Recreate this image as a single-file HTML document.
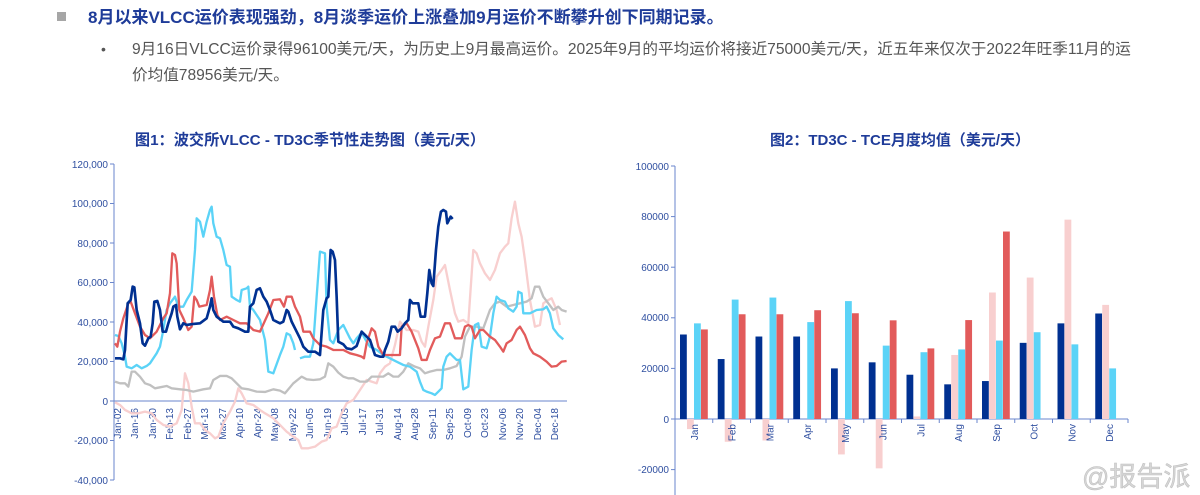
<!DOCTYPE html>
<html><head><meta charset="utf-8"><style>
html,body{margin:0;padding:0;background:#fff;}
svg{display:block;font-family:"Liberation Sans","Noto Sans CJK SC",sans-serif;}
</style></head><body>
<svg width="1200" height="495" viewBox="0 0 1200 495" xmlns="http://www.w3.org/2000/svg">
<rect x="57" y="12" width="9" height="9" fill="#a6a6a6"/>
<text x="88" y="23" font-size="17" font-weight="bold" fill="#1f3c99">8月以来VLCC运价表现强劲，8月淡季运价上涨叠加9月运价不断攀升创下同期记录。</text>
<text x="101" y="54" font-size="14" fill="#555">•</text>
<text x="132" y="54" font-size="15.6" fill="#555">9月16日VLCC运价录得96100美元/天，为历史上9月最高运价。2025年9月的平均运价将接近75000美元/天，近五年来仅次于2022年旺季11月的运</text>
<text x="132" y="80" font-size="15.6" fill="#555">价均值78956美元/天。</text>
<text x="310" y="145" font-size="15.2" font-weight="bold" fill="#1f3c99" text-anchor="middle">图1：波交所VLCC - TD3C季节性走势图（美元/天）</text>
<text x="900" y="145" font-size="15" font-weight="bold" fill="#1f3c99" text-anchor="middle">图2：TD3C - TCE月度均值（美元/天）</text>

<g font-size="10" fill="#2f4fa0" text-anchor="end">
<text x="108" y="168">120,000</text><text x="108" y="207">100,000</text><text x="108" y="247">80,000</text>
<text x="108" y="286">60,000</text><text x="108" y="326">40,000</text><text x="108" y="365">20,000</text>
<text x="108" y="405">0</text><text x="108" y="444">-20,000</text><text x="108" y="484">-40,000</text>
</g>
<g stroke="#6a86cc" stroke-width="1">
<line x1="114" y1="164" x2="114" y2="480"/><line x1="114" y1="401" x2="567" y2="401"/>
<line x1="110" y1="164" x2="114" y2="164"/><line x1="110" y1="203.5" x2="114" y2="203.5"/><line x1="110" y1="243" x2="114" y2="243"/><line x1="110" y1="282.5" x2="114" y2="282.5"/><line x1="110" y1="322" x2="114" y2="322"/><line x1="110" y1="361.5" x2="114" y2="361.5"/><line x1="110" y1="401" x2="114" y2="401"/><line x1="110" y1="440.5" x2="114" y2="440.5"/><line x1="110" y1="480" x2="114" y2="480"/>
</g>
<g font-size="10" fill="#2f4fa0" text-anchor="end">
<text transform="translate(121,408) rotate(-90)">Jan-02</text>
<text transform="translate(138,408) rotate(-90)">Jan-16</text>
<text transform="translate(156,408) rotate(-90)">Jan-30</text>
<text transform="translate(173,408) rotate(-90)">Feb-13</text>
<text transform="translate(191,408) rotate(-90)">Feb-27</text>
<text transform="translate(208,408) rotate(-90)">Mar-13</text>
<text transform="translate(226,408) rotate(-90)">Mar-27</text>
<text transform="translate(243,408) rotate(-90)">Apr-10</text>
<text transform="translate(261,408) rotate(-90)">Apr-24</text>
<text transform="translate(278,408) rotate(-90)">May-08</text>
<text transform="translate(296,408) rotate(-90)">May-22</text>
<text transform="translate(313,408) rotate(-90)">Jun-05</text>
<text transform="translate(331,408) rotate(-90)">Jun-19</text>
<text transform="translate(348,408) rotate(-90)">Jul-03</text>
<text transform="translate(366,408) rotate(-90)">Jul-17</text>
<text transform="translate(383,408) rotate(-90)">Jul-31</text>
<text transform="translate(401,408) rotate(-90)">Aug-14</text>
<text transform="translate(418,408) rotate(-90)">Aug-28</text>
<text transform="translate(436,408) rotate(-90)">Sep-11</text>
<text transform="translate(453,408) rotate(-90)">Sep-25</text>
<text transform="translate(471,408) rotate(-90)">Oct-09</text>
<text transform="translate(488,408) rotate(-90)">Oct-23</text>
<text transform="translate(506,408) rotate(-90)">Nov-06</text>
<text transform="translate(523,408) rotate(-90)">Nov-20</text>
<text transform="translate(541,408) rotate(-90)">Dec-04</text>
<text transform="translate(558,408) rotate(-90)">Dec-18</text>
</g>
<g transform="translate(60,150) scale(0.3333)" fill="none" stroke-width="7" stroke-linejoin="round">
<polyline stroke="#f8cfcf" points="165,757 180,765 195,780 215,790 235,790 255,785 275,790 290,810 310,825 330,830 350,820 365,780 375,670 385,700 395,770 405,820 420,820 435,840 450,850 465,865 475,860 490,820 510,785 525,755 535,715 545,730 560,760 580,765 600,780 615,790 640,805 660,825 680,845 700,860 715,870 725,895 745,895 765,890 785,875 800,870 815,835 830,830 845,790 860,760 880,750 900,720 920,690 935,695 950,700 960,670 975,650 990,640 1005,585 1020,515 1040,540 1060,540 1075,545 1085,575 1095,590 1105,530 1120,450 1130,380 1145,360 1155,345 1170,420 1185,490 1195,515 1210,510 1225,520 1240,300 1250,310 1260,340 1275,370 1290,390 1305,360 1320,310 1335,290 1345,280 1355,205 1365,155 1375,220 1385,260 1395,330 1410,450 1425,530 1440,525 1450,460 1465,450 1475,445 1490,480 1500,525"/>
<polyline stroke="#c0c0c0" points="165,695 180,700 195,700 205,710 215,665 225,665 240,680 255,700 270,705 285,715 300,712 320,708 335,715 360,718 380,720 400,725 430,718 450,715 460,690 480,678 500,678 515,685 530,700 545,715 565,718 590,725 615,726 640,718 660,722 675,730 690,712 700,700 725,680 740,688 760,690 780,688 795,680 805,640 820,650 835,668 850,680 865,685 880,685 900,695 920,695 935,680 950,680 970,680 985,670 1000,680 1015,680 1030,665 1045,640 1065,650 1080,655 1095,670 1110,665 1130,660 1150,660 1170,655 1190,648 1205,620 1215,560 1230,530 1250,530 1270,535 1290,480 1305,460 1320,455 1340,470 1360,465 1380,460 1400,455 1415,445 1425,410 1438,410 1450,440 1465,460 1480,480 1495,470 1505,480 1520,485"/>
<polyline stroke="#5bd3f7" points="165,555 175,558 185,580 195,620 200,650 215,655 230,645 245,655 260,648 270,640 280,625 290,610 300,590 308,550 320,480 330,460 345,440 355,470 370,470 380,450 395,425 405,300 410,205 420,215 430,260 440,215 450,180 455,170 460,220 470,260 480,265 490,300 500,345 510,350 515,440 530,450 540,455 545,420 560,415 565,410 570,470 580,480 600,510 615,570 625,665 640,670 660,615 670,590 680,550 690,555 700,580 705,600"/>
<polyline stroke="#5bd3f7" points="720,625 735,620 750,620 760,580 770,440 780,305 795,310 800,470 810,570 820,580 835,540 850,525 860,545 870,565 880,580 890,565 905,548 920,575 930,590 950,600 970,615 990,625 1010,635 1030,645 1050,650 1070,665 1080,695 1090,720 1100,725 1115,730 1125,735 1135,725 1145,715 1150,650 1160,620 1170,610 1180,620 1190,630 1200,630 1210,718 1225,710 1235,600 1245,525 1255,520 1265,590 1280,595 1290,560 1300,490 1310,440 1320,450 1335,455 1345,475 1360,485 1370,470 1375,425 1385,430 1390,490 1410,490 1430,480 1450,478 1460,470 1470,490 1480,535 1495,555 1510,568"/>
<polyline stroke="#e25b5b" points="165,580 172,590 180,545 190,505 205,460 212,455 225,490 240,530 255,555 270,565 290,545 310,505 320,490 330,430 337,310 345,315 350,340 358,480 370,505 385,540 395,530 403,440 410,450 418,470 440,465 450,420 455,380 462,440 472,495 480,510 500,500 520,510 540,520 560,520 580,540 600,545 625,490 640,450 660,448 672,470 680,440 695,440 705,470 720,500 730,545 750,545 760,565 780,585 800,590 820,600 850,600 870,610 890,615 905,620 912,625 920,580 935,535 945,545 955,590 970,615 990,615 1010,615 1020,615 1025,530 1040,520 1055,545 1075,595 1085,630 1100,630 1110,600 1125,565 1140,560 1155,520 1170,520 1185,565 1205,565 1215,530 1225,525 1235,530 1245,565 1260,540 1270,540 1290,560 1305,570 1320,590 1330,605 1340,580 1355,570 1370,540 1380,530 1395,555 1410,595 1420,610 1440,620 1460,635 1475,650 1490,648 1505,635 1520,633"/>
<polyline stroke="#003091" stroke-width="8" points="165,625 180,625 190,628 195,600 203,460 212,450 218,410 223,412 230,480 240,520 248,580 255,587 265,565 272,560 278,520 283,455 292,453 300,480 308,545 318,545 325,520 335,490 340,470 348,465 352,500 360,538 370,520 380,525 400,522 420,520 440,505 450,470 455,445 460,480 470,500 490,515 510,515 520,530 535,535 555,545 565,545 570,470 580,460 590,420 600,415 610,440 620,455 630,480 640,510 650,515 660,520 670,515 680,480 685,485 695,515 705,535 720,565 730,590 745,605 765,605 780,615 790,480 800,445 805,440 812,300 818,305 825,330 830,440 835,575 850,583 860,595 875,598 890,588 905,545 915,555 930,570 945,615 960,620 970,620 975,600 985,575 995,530 1005,530 1013,545 1025,535 1035,520 1045,510 1050,450 1058,460 1075,460 1082,500 1095,500 1102,430 1108,360 1115,400 1120,408 1128,300 1135,230 1143,185 1150,180 1158,185 1162,220 1167,210 1172,200 1178,207"/>
</g>

<g font-size="10" fill="#2f4fa0" text-anchor="end">
<text x="669" y="170">100000</text><text x="669" y="220">80000</text><text x="669" y="271">60000</text>
<text x="669" y="321">40000</text><text x="669" y="372">20000</text><text x="669" y="423">0</text><text x="669" y="473">-20000</text>
</g>
<g stroke="#6a86cc" stroke-width="1">
<line x1="675" y1="166" x2="675" y2="495"/><line x1="675" y1="419" x2="1128" y2="419"/>
<line x1="671" y1="166" x2="675" y2="166"/><line x1="671" y1="216.6" x2="675" y2="216.6"/><line x1="671" y1="267.2" x2="675" y2="267.2"/><line x1="671" y1="317.8" x2="675" y2="317.8"/><line x1="671" y1="368.4" x2="675" y2="368.4"/><line x1="671" y1="419" x2="675" y2="419"/><line x1="671" y1="469.6" x2="675" y2="469.6"/>
</g>
<g id="bars"></g>
<g font-size="10" fill="#2f4fa0" id="mlabels"></g>
<text x="1082" y="486" font-size="27" fill="#d6d6d6" stroke="#bdbdbd" stroke-width="0.5">@报告派</text>
<script>
(function(){
var ns="http://www.w3.org/2000/svg";
var d=[[33400,-4000,37800,35400],[23700,-9000,47200,41400],[32600,-8500,48000,41400],[32600,0,38300,43000],[20000,-14000,46600,41800],[22400,-19500,29000,39000],[17500,1000,26400,27900],[13700,25300,27500,39100],[15000,50000,31000,74100],[30100,55900,34300,null],[37800,78800,29500,null],[41700,45100,20000,null]];
var c=["#003091","#f8cfcf","#5bd3f7","#e25b5b"];
var m=["Jan","Feb","Mar","Apr","May","Jun","Jul","Aug","Sep","Oct","Nov","Dec"];
var g=document.getElementById("bars"),L=document.getElementById("mlabels");
var gw=37.75,k=253/100000;
for(var i=0;i<12;i++){
 var x0=675+i*gw+5;
 for(var j=0;j<4;j++){var v=d[i][j];if(v===null||v===0)continue;
  var r=document.createElementNS(ns,"rect");var h=Math.abs(v)*k;
  r.setAttribute("x",x0+j*7);r.setAttribute("width",6.8);
  r.setAttribute("y",v>0?419-h:419);r.setAttribute("height",h);r.setAttribute("fill",c[j]);g.appendChild(r);}
 var t=document.createElementNS(ns,"text");var cx=675+i*gw+gw/2+4;
 t.setAttribute("transform","translate("+cx+",424) rotate(-90)");t.setAttribute("text-anchor","end");
 t.textContent=m[i];L.appendChild(t);
 var tk=document.createElementNS(ns,"line");tk.setAttribute("x1",675+(i+1)*gw);tk.setAttribute("x2",675+(i+1)*gw);tk.setAttribute("y1",419);tk.setAttribute("y2",423);tk.setAttribute("stroke","#6a86cc");g.appendChild(tk);
}})();
</script>
</svg>
</body></html>
